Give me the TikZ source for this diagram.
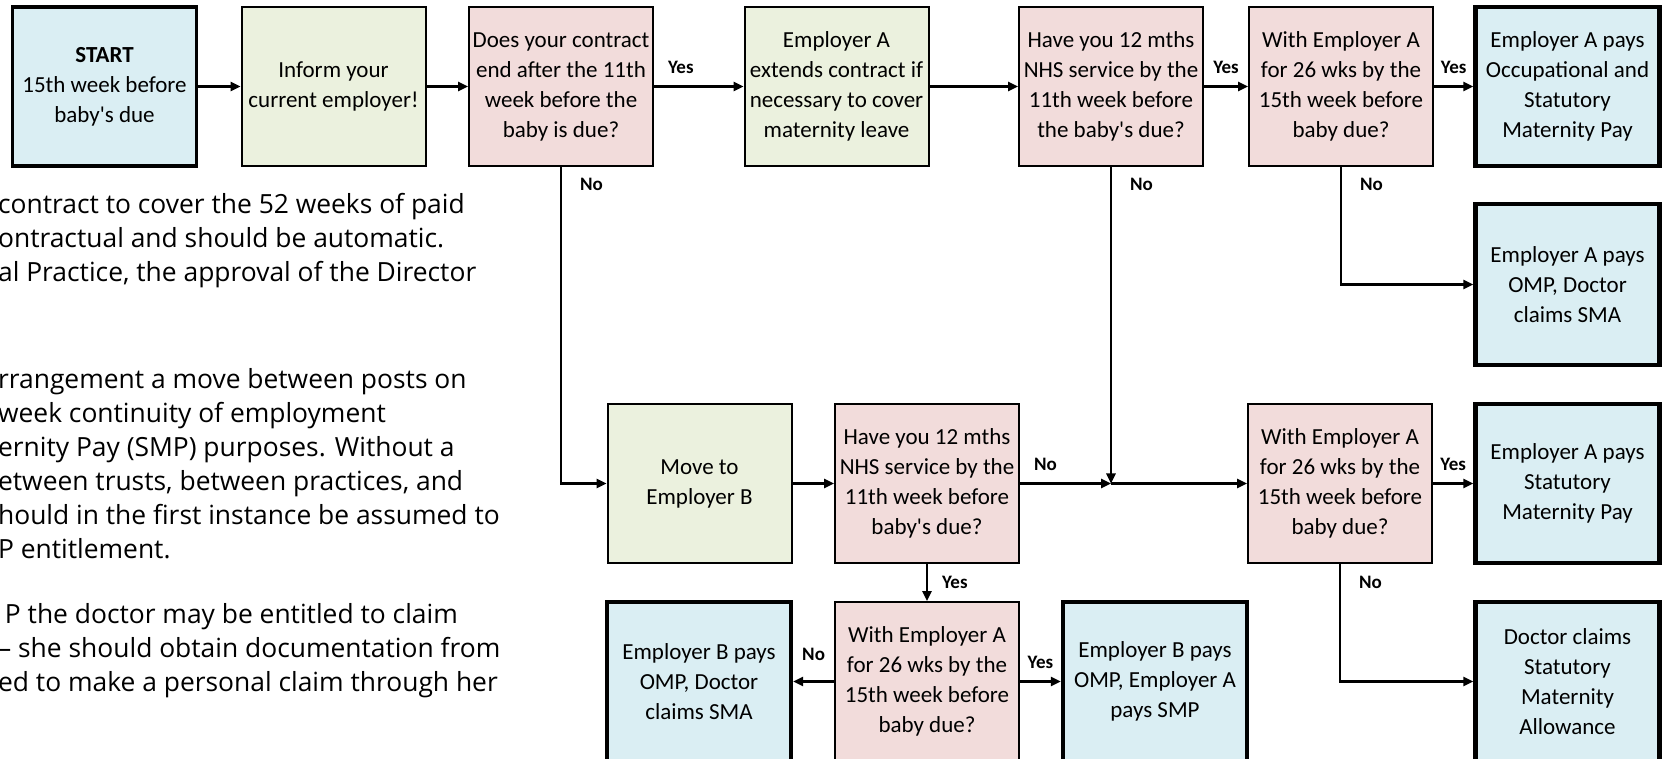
\documentclass[tikz,border=0pt]{standalone}
\usepackage{fontspec}
\setmainfont{Carlito}
\newfontfamily\notefont{Open Sans}
\usetikzlibrary{arrows.meta}
\definecolor{payblue}{HTML}{DAEEF3}
\definecolor{actgreen}{HTML}{EBF1DE}
\definecolor{askpink}{HTML}{F2DCDB}
\newcommand{\apo}{\textquotesingle}

\begin{document}
\begin{tikzpicture}[
            x = 0.5pt, y = -0.5pt, % one unit is one pixel of the sketch
            > = {Triangle[length=5pt,width=4.6pt]}, % arrow head style
            line width = 1.1pt, % line style
            box/.style = {draw=black, line width=1pt, minimum width=92pt, minimum height=79.5pt,
                          inner sep=0pt, align=center, font=\fontsize{11.5}{15}\selectfont},
            startbox/.style = {box, fill=payblue, line width=1.6pt},
            actbox/.style = {box, fill=actgreen},
            askbox/.style = {box, fill=askpink},
            paybox/.style = {box, fill=payblue, line width=2.2pt},
            answer/.style = {font=\fontsize{9.5}{11}\selectfont\bfseries, inner sep=1pt},
            note/.style = {font=\notefont\fontsize{13.2}{17}\selectfont, align=left, inner sep=0pt, anchor=west}
        ]

\path[use as bounding box, clip] (0,0) rectangle (1667,759);
\fill[white] (0,0) rectangle (1667,759);

% notes on the left, cut by the page edge
\node[note] (notea) at (-3,241) {contract to cover the 52 weeks of paid\\ontractual and should be automatic.\\al Practice, the approval of the Director};
\node[note] (noteb) at (-3,464) {rrangement a move between posts on\\week continuity of employment\\ernity Pay (SMP) purposes. Without a\\etween trusts, between practices, and\\hould in the first instance be assumed to\\P entitlement.};
\node[note] (notec) at (-3,650.5) {\ P the doctor may be entitled to claim\\– she should obtain documentation from\\ed to make a personal claim through her};

% top row
\node[startbox] (start) at (104.5,86.5) {\textbf{START}\\15th week before\\baby\apo s due};
\node[actbox] (inform) at (333.5,86.5) {Inform your\\current employer!};
\node[askbox] (contract) at (561,86.5) {Does your contract\\end after the 11th\\week before the\\baby is due?};
\node[actbox] (extend) at (836.5,86.5) {Employer A\\extends contract if\\necessary to cover\\maternity leave};
\node[askbox] (service) at (1111,86.5) {Have you 12 mths\\NHS service by the\\11th week before\\the baby\apo s due?};
\node[askbox] (tenure) at (1341,86.5) {With Employer A\\for 26 wks by the\\15th week before\\baby due?};
\node[paybox] (payocc) at (1567.5,86.5) {Employer A pays\\Occupational and\\Statutory\\Maternity Pay};
\node[paybox, minimum height=80.5pt] (payomp) at (1567.5,284.5) {Employer A pays\\OMP, Doctor\\claims SMA};

% middle row
\node[actbox] (moveb) at (699.5,483.5) {Move to\\Employer B};
\node[askbox] (serviceb) at (927,483.5) {Have you 12 mths\\NHS service by the\\11th week before\\baby\apo s due?};
\node[askbox] (tenureb) at (1340,483.5) {With Employer A\\for 26 wks by the\\15th week before\\baby due?};
\node[paybox] (paysmp) at (1567.5,483.5) {Employer A pays\\Statutory\\Maternity Pay};
\coordinate (merge) at (1111,483.5);

% bottom row
\node[paybox] (paybsma) at (699,681.5) {Employer B pays\\OMP, Doctor\\claims SMA};
\node[askbox] (tenurec) at (927,681.5) {With Employer A\\for 26 wks by the\\15th week before\\baby due?};
\node[paybox] (paybomp) at (1155,681.5) {Employer B pays\\OMP, Employer A\\pays SMP};
\node[paybox] (allowance) at (1567.5,681.5) {Doctor claims\\Statutory\\Maternity\\Allowance};

\path [->] (start) edge (inform);
\path [->] (inform) edge (contract);
\path [->] (contract) edge node[answer, above=5pt, pos=0.3] {Yes} (extend);
\path [->] (extend) edge (service);
\path [->] (service) edge node[answer, above=5pt] {Yes} (tenure);
\path [->] (tenure) edge node[answer, above=5pt] {Yes} (payocc);
\draw [->] (tenure.south) |- node[answer, right=8pt, pos=0.074] {No} (payomp.west);
\draw [->] (contract.south) |- node[answer, right=8pt, pos=0.028] {No} (moveb.west);
\path [->] (service) edge node[answer, right=8pt, pos=0.055] {No} (merge);
\path [->] (moveb) edge (serviceb);
\path [->] (serviceb) edge node[answer, above=5pt, pos=0.28] {No} (merge);
\path [->] (merge) edge (tenureb);
\path [->] (tenureb) edge node[answer, above=5pt] {Yes} (paysmp);
\draw [->] (tenureb.south) |- node[answer, right=8pt, pos=0.08] {No} (allowance.west);
\path [->] (serviceb) edge node[answer, right=6pt] {Yes} (tenurec);
\path [->] (tenurec) edge node[answer, above=9pt] {No} (paybsma);
\path [->] (tenurec) edge node[answer, above=5pt] {Yes} (paybomp);
\end{tikzpicture}
\end{document}
